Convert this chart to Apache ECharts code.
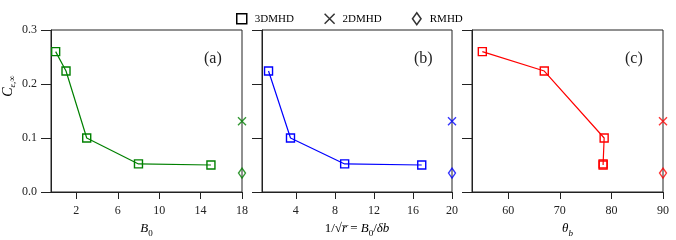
<!DOCTYPE html>
<html><head><meta charset="utf-8">
<script src="https://cdn.jsdelivr.net/npm/echarts@6/dist/echarts.min.js"></script>
<style>html,body{margin:0;padding:0;background:#fff}#c{width:676px;height:240px}</style>
</head><body><div id="c"></div>
<script>
// ---- data ----
const b0Values = [0, 1, 3, 8, 15];
const cA = [0.26, 0.224, 0.1, 0.052, 0.05];
const ratioValues = [1.2, 3.45, 9.0, 16.9];
const cB = [0.224, 0.1, 0.052, 0.05];
const thetaValues = [55, 67, 78.6, 78.4, 78.4];
const cC = [0.26, 0.224, 0.1, 0.052, 0.05];
const c2D = 0.131;
const cRMHD = 0.035;
const xTicksA = [2, 6, 10, 14, 18];
const xTicksB = [4, 8, 12, 16, 20];
const xTicksC = [60, 70, 80, 90];
const yTicks = [0, 0.1, 0.2, 0.3];
const panelLabels = ['(a)', '(b)', '(c)'];
const legendNames = ['3DMHD', '2DMHD', 'RMHD'];

// ---- styling ----
const F = 'Liberation Serif';
const colors = ['#008000', '#0000ff', '#ff0000'];
const grids = [
  {left: 51, top: 30, width: 191, height: 162},
  {left: 262, top: 30, width: 190, height: 162},
  {left: 472, top: 30, width: 191, height: 162}
];
const xRanges = [[-0.45, 18], [0.53, 20], [53, 90]];
const xTicks = [xTicksA, xTicksB, xTicksC];
const xData = [b0Values, ratioValues, thetaValues];
const yData = [cA, cB, cC];

const rich = {
  i: {fontFamily: F, fontStyle: 'italic', fontSize: 13, lineHeight: 18, color: '#000'},
  r: {fontFamily: F, fontSize: 13, lineHeight: 18, color: '#000'},
  s: {fontFamily: F, fontSize: 9, lineHeight: 13, verticalAlign: 'bottom', color: '#000'},
  si: {fontFamily: F, fontStyle: 'italic', fontSize: 9, lineHeight: 13, verticalAlign: 'bottom', color: '#000'}
};
const xNames = [
  '{i|B}{s|0}',
  '{r|1/√}{i|r\u0305}{r| = }{i|B}{s|0}{r|/}{i|δb}',
  '{i|θ}{si|b}'
];

const CROSS = 'path://M0,0L10,10M10,0L0,10';
const DIAM = 'path://M5,0L10,7L5,14L0,7Z';
const SQ = 'path://M0,0H10V10H0Z';

const xAxis = [], yAxis = [], series = [];
for (let k = 0; k < 3; k++) {
  xAxis.push({
    type: 'value', gridIndex: k, min: xRanges[k][0], max: xRanges[k][1],
    name: xNames[k], nameLocation: 'middle', nameGap: 28,
    nameTextStyle: {rich: rich},
    axisLine: {show: true, onZero: false, lineStyle: {color: '#222', width: 1}},
    axisTick: {show: true, length: 7, customValues: xTicks[k], lineStyle: {color: '#222'}},
    axisLabel: {show: true, customValues: xTicks[k], margin: 13, fontFamily: F, fontSize: 12, color: '#222'},
    splitLine: {show: false}
  });
  yAxis.push({
    type: 'value', gridIndex: k, min: 0, max: 0.3,
    name: k === 0 ? '{ci|C}{sub|ε,∞}' : '', nameLocation: 'middle', nameGap: 34, nameRotate: 90,
    nameTextStyle: {padding: [0, 0, 0, 50], rich: {
      ci: {fontFamily: F, fontStyle: 'italic', fontSize: 14, lineHeight: 18, color: '#000'},
      sub: {fontFamily: F, fontStyle: 'italic', fontSize: 9, lineHeight: 13, verticalAlign: 'bottom', color: '#000'}
    }},
    axisLine: {show: true, onZero: false, lineStyle: {color: '#222', width: 1}},
    axisTick: {show: true, length: 10, customValues: yTicks, lineStyle: {color: '#222'}},
    axisLabel: {show: k === 0, customValues: yTicks, margin: 14, fontFamily: F, fontSize: 12, color: '#222',
      formatter: v => v.toFixed(1)},
    splitLine: {show: false}
  });
  series.push({
    name: legendNames[0], type: 'line', xAxisIndex: k, yAxisIndex: k,
    data: xData[k].map((x, i) => [x, yData[k][i]]),
    symbol: 'rect', symbolSize: 8, clip: false,
    lineStyle: {color: colors[k], width: 1.2},
    itemStyle: {color: 'transparent', borderColor: colors[k], borderWidth: 1.4}
  });
  series.push({
    name: legendNames[1], type: 'scatter', xAxisIndex: k, yAxisIndex: k,
    data: [[xRanges[k][1], c2D]], symbol: CROSS, symbolSize: 8, clip: false,
    itemStyle: {color: 'none', borderColor: colors[k], borderWidth: 1.4}
  });
  series.push({
    name: legendNames[2], type: 'scatter', xAxisIndex: k, yAxisIndex: k,
    data: [[xRanges[k][1], cRMHD]], symbol: DIAM, symbolSize: [7, 10], clip: false,
    itemStyle: {color: 'none', borderColor: colors[k], borderWidth: 1.4}
  });
}

const graphic = panelLabels.map((t, k) => ({
  type: 'text', left: grids[k].left + grids[k].width - 19 - 19, top: 51,
  style: {text: t, fontFamily: F, fontSize: 16, fill: '#222'}
}));

const chart = echarts.init(document.getElementById('c'), null, {renderer: 'canvas'});
chart.setOption({
  animation: false,
  backgroundColor: '#fff',
  grid: grids.map(g => Object.assign({show: true, borderColor: '#222', borderWidth: 1, backgroundColor: 'transparent',
    containLabel: false, outerBoundsMode: 'none'}, g)),
  xAxis: xAxis, yAxis: yAxis, series: series,
  legend: {
    top: 7, left: 231, itemWidth: 10, itemHeight: 12, itemGap: 30,
    textStyle: {fontFamily: F, fontSize: 11, color: '#000', padding: [0, 0, 0, 3]},
    lineStyle: {opacity: 0},
    selectedMode: false,
    data: [
      {name: legendNames[0], icon: SQ, itemStyle: {color: 'transparent', borderColor: '#000', borderWidth: 1.5}},
      {name: legendNames[1], icon: CROSS, itemStyle: {color: 'transparent', borderColor: '#000', borderWidth: 1.5}},
      {name: legendNames[2], icon: DIAM, itemStyle: {color: 'transparent', borderColor: '#000', borderWidth: 1.5}}
    ]
  },
  graphic: graphic
});
</script></body></html>
